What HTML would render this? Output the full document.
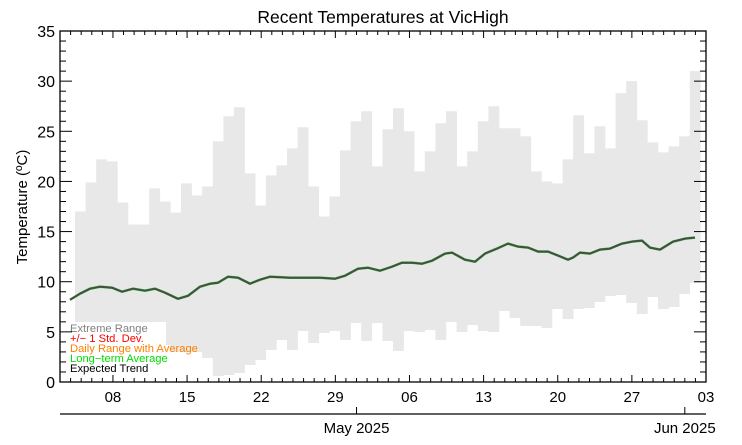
<!DOCTYPE html>
<html><head><meta charset="utf-8"><style>
html,body{margin:0;padding:0;background:#fff;}
svg{display:block;font-family:"Liberation Sans",sans-serif;}
</style></head><body>
<svg id="s" width="742" height="445" xmlns="http://www.w3.org/2000/svg">
<text x="383" y="23" font-size="17.5" text-anchor="middle">Recent Temperatures at VicHigh</text>
<g id="bars"></g>
<g id="axes"></g>
</svg>
<script>
const S=document.getElementById('s');
const NS='http://www.w3.org/2000/svg';
function el(t,a,p){const e=document.createElementNS(NS,t);for(const k in a)e.setAttribute(k,a[k]);(p||S).appendChild(e);return e;}
const L=60,R=706,T=31,B=382,D=(R-L)/61;
const yv=v=>B-v*(B-T)/35;
const tops=[17.0,19.9,22.2,22.0,17.9,15.7,15.7,19.3,18.0,16.9,19.8,18.6,19.5,24.0,26.5,27.4,20.8,17.6,20.6,21.6,23.3,25.4,
19.5,16.5,18.5,23.1,26.0,27.0,21.5,25.2,27.3,25.0,21.0,23.0,25.8,27.0,21.5,23.0,26.0,27.5,25.3,25.3,24.5,21.0,20.0,19.8,22.2,26.6,22.8,25.5,23.3,28.8,30.0,26.1,23.9,22.9,23.5,24.5,31.0];
const bots=[345,345,345,345,345,345,345,345,345,352,352,352,358,376,375,373,365,360,350,340,350,331,343,333,331,340,323,341,323,341,351,331,332,330,340,322,332,325,331,332,311,318,326,326,328,309,319,309,308,302,296,295,303,314,297,309,307,294,283];
const bg=document.getElementById('bars');
for(let i=0;i<59;i++){const x0=75+i*10.6;const y0=yv(tops[i]);
el('rect',{x:x0,y:y0,width:10.9,height:bots[i]-y0,fill:'#e8e8e8'},bg);}
el('rect',{x:65,y:322,width:101,height:60,fill:'#fff'},bg);
const pts=[[70,8.2],[80,8.8],[90,9.3],[100,9.5],[112,9.4],[122,9.0],[133,9.3],[145,9.1],[155,9.3],[165,8.9],[178,8.3],[188,8.6],[200,9.5],[210,9.8],[218,9.9],[228,10.5],[238,10.4],[250,9.8],[260,10.2],[270,10.5],[290,10.4],[320,10.4],[335,10.3],[345,10.6],[358,11.3],[368,11.4],[380,11.1],[392,11.5],[402,11.9],[412,11.9],[422,11.8],[432,12.1],[445,12.8],[452,12.9],[465,12.2],[475,12.0],[485,12.8],[497,13.3],[508,13.8],[518,13.5],[528,13.4],[538,13.0],[548,13.0],[558,12.6],[568,12.2],[573,12.4],[580,12.9],[590,12.8],[600,13.2],[610,13.3],[622,13.8],[632,14.0],[642,14.1],[650,13.4],[660,13.2],[673,14.0],[685,14.3],[695,14.4]];
const ps=pts.map(p=>p[0]+','+yv(p[1]).toFixed(1)).join(' ');
el('polyline',{points:ps,fill:'none',stroke:'#33dd33','stroke-width':2.6,'stroke-linejoin':'round'},bg);
el('polyline',{points:ps,fill:'none',stroke:'#4a4a4a','stroke-width':2,'stroke-linejoin':'round'},bg);
const lg=[['Extreme Range','#808080'],['+/\u2212 1 Std. Dev.','#ff0000'],['Daily Range with Average','#ff8000'],['Long\u2212term Average','#00dd00'],['Expected Trend','#000']];
lg.forEach((l,i)=>{const t=el('text',{x:70,y:332+i*10,'font-size':11.2,fill:l[1]},bg);t.textContent=l[0];});
const ax=document.getElementById('axes');
el('rect',{x:L,y:T,width:R-L,height:B-T,fill:'none',stroke:'#000','stroke-width':1.3},ax);
for(let v=0;v<=35;v++){const y=yv(v);const len=v%5==0?12:6;
el('line',{x1:L,y1:y,x2:L+len,y2:y,stroke:'#000','stroke-width':1},ax);
el('line',{x1:R,y1:y,x2:R-len,y2:y,stroke:'#000','stroke-width':1},ax);
if(v%5==0){const t=el('text',{x:L-5,y:y+6,'font-size':16,'text-anchor':'end'},ax);t.textContent=v;}}
const labs={5:'08',12:'15',19:'22',26:'29',33:'06',40:'13',47:'20',54:'27',61:'03'};
for(let d=0;d<=61;d++){const x=L+d*D;const maj=labs[d]!==undefined;const len=maj?7:4;
el('line',{x1:x,y1:B,x2:x,y2:B-len,stroke:'#000','stroke-width':1},ax);
el('line',{x1:x,y1:T,x2:x,y2:T+len,stroke:'#000','stroke-width':1},ax);
if(maj){const t=el('text',{x:x,y:402,'font-size':15,'text-anchor':'middle'},ax);t.textContent=labs[d];}}
el('line',{x1:L,y1:414,x2:R,y2:414,stroke:'#000','stroke-width':1.3},ax);
[[28,'May 2025'],[59,'Jun 2025']].forEach(a=>{const x=L+a[0]*D;
el('line',{x1:x,y1:414,x2:x,y2:407,stroke:'#000','stroke-width':1},ax);
const t=el('text',{x:x,y:433,'font-size':15,'text-anchor':'middle'},ax);t.textContent=a[1];});
const yl=el('text',{x:0,y:0,'font-size':15,'text-anchor':'middle',transform:'translate(27,207) rotate(-90)'},ax);
yl.textContent='Temperature (\u00BAC)';
</script>
</body></html>
